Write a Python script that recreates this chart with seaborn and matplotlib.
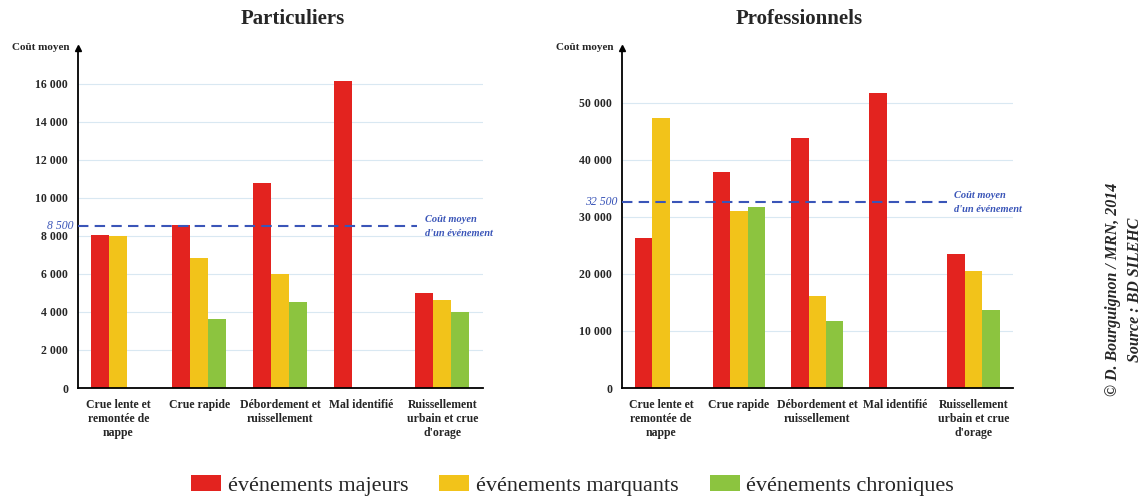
import matplotlib.pyplot as plt
import seaborn as sns
import pandas as pd
import numpy as np
from matplotlib.patches import Patch

# categories and series
categories = ['Crue lente et\nremontée de\nnappe', 'Crue rapide', 'Débordement et\nruissellement',
              'Mal identifié', 'Ruissellement\nurbain et crue\nd\'orage']
series = ['événements majeurs', 'événements marquants', 'événements chroniques']

part_majeurs = [8050, 8600, 10800, 16150, 5000]
part_marquants = [8000, 6850, 6000, np.nan, 4650]
part_chroniques = [np.nan, 3650, 4500, np.nan, 4000]
part_moyen = 8500

pro_majeurs = [26200, 37800, 43800, 51700, 23500]
pro_marquants = [47300, 31000, 16100, np.nan, 20500]
pro_chroniques = [np.nan, 31700, 11800, np.nan, 13600]
pro_moyen = 32500

colors = ['#e3231f', '#f2c31a', '#8cc43f']
blue = '#3a55b8'

def to_long(maj, mar, chro):
    rows = []
    for vals, s in zip([maj, mar, chro], series):
        for c, v in zip(categories, vals):
            rows.append({'cat': c, 'serie': s, 'cout': v})
    return pd.DataFrame(rows)

sns.set_style('white')
plt.rcParams['font.family'] = ['Liberation Serif', 'DejaVu Serif']

fig = plt.figure(figsize=(11.45, 4.99), dpi=100)
ax1 = fig.add_axes([0.068, 0.2224, 0.3537, 0.682])
ax2 = fig.add_axes([0.543, 0.2224, 0.3415, 0.682])

def draw_panel(ax, df, moyen, ymax, ystep, xmax_line, title, title_x):
    sns.barplot(data=df, x='cat', y='cout', hue='serie', hue_order=series, order=categories,
                palette=colors, width=0.67, saturation=1, legend=False, ax=ax, errorbar=None,
                linewidth=0)
    ax.set_xlim(-0.5, 4.5)
    ax.set_ylim(0, ymax)
    ticks = np.arange(0, ymax, ystep)
    ax.set_yticks(ticks)
    ax.set_yticklabels(['{:,}'.format(int(t)).replace(',', ' ') for t in ticks],
                       fontsize=8.5, fontweight='bold')
    for t in ticks[1:]:
        ax.axhline(t, color='#d9e8f2', lw=0.8, zorder=0)
    ax.set_axisbelow(True)
    # boundaries ticks, labels at centers
    ax.set_xticks(np.arange(-0.5, 5, 1))
    ax.set_xticklabels([])
    ax.set_xticks(np.arange(5), minor=True)
    ax.set_xticklabels(categories, minor=True, fontsize=8.5, fontweight='bold', va='top')
    ax.tick_params(axis='x', which='major', length=5, width=1.2, direction='out', color='black')
    ax.tick_params(axis='x', which='minor', length=0, pad=8)
    ax.tick_params(axis='y', length=3, width=1, color='black', pad=4)
    ax.set_xlabel('')
    ax.set_ylabel('')
    for side in ['top', 'right']:
        ax.spines[side].set_visible(False)
    for side in ['left', 'bottom']:
        ax.spines[side].set_color('black')
        ax.spines[side].set_linewidth(1.3)
    ax.plot(0, 1, marker='^', color='black', markersize=5, transform=ax.transAxes, clip_on=False)
    ax.text(-0.02, 1.0, 'Coût moyen', transform=ax.transAxes, ha='right', va='center',
            fontsize=8, fontweight='bold')
    # average cost line
    ax.axhline(moyen, xmin=0, xmax=xmax_line, color=blue, ls=(0, (5, 3)), lw=1.5, zorder=3)
    ax.text(-0.012, moyen, '{:,}'.format(moyen).replace(',', ' '), transform=ax.get_yaxis_transform(),
            ha='right', va='center', color=blue, fontsize=8.5, style='italic')
    ax.text(xmax_line + 0.02, moyen, 'Coût moyen\nd\'un événement', transform=ax.get_yaxis_transform(),
            ha='left', va='center', color=blue, fontsize=7.5, style='italic', fontweight='bold',
            linespacing=1.7)
    fig.text(title_x, 0.962, title, ha='center', va='center', fontsize=15, fontweight='bold')

draw_panel(ax1, to_long(part_majeurs, part_marquants, part_chroniques), part_moyen,
           17900, 2000, 0.837, 'Particuliers', 0.256)
draw_panel(ax2, to_long(pro_majeurs, pro_marquants, pro_chroniques), pro_moyen,
           59600, 10000, 0.831, 'Professionnels', 0.698)

handles = [Patch(facecolor=c, edgecolor='none') for c in colors]
fig.legend(handles, series, loc='center', bbox_to_anchor=(0.5, 0.027), ncol=3, frameon=False,
           prop={'size': 16}, handlelength=1.35, handleheight=0.7, columnspacing=1.4,
           handletextpad=0.3)

fig.text(0.972, 0.42, '© D. Bourguignon / MRN, 2014', rotation=90, ha='center', va='center',
         fontsize=11.5, fontweight='bold', style='italic')
fig.text(0.991, 0.42, 'Source : BD SILEHC', rotation=90, ha='center', va='center',
         fontsize=11.5, fontweight='bold', style='italic')

plt.savefig('out.png', dpi=100)
